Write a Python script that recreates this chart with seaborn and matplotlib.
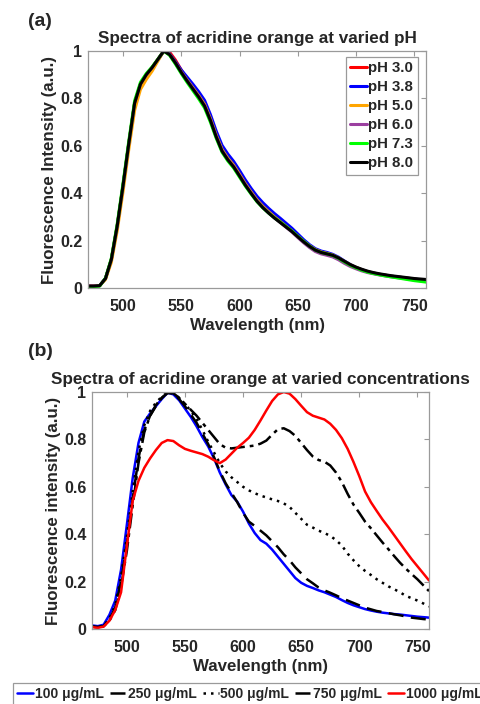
import numpy as np
import pandas as pd
import seaborn as sns
import matplotlib
matplotlib.use("Agg")
import matplotlib.pyplot as plt
from matplotlib.ticker import FormatStrFormatter

# wavelength grid (nm), 5 nm steps from 470 to 760
wavelength = list(range(470, 761, 5))

# panel (a): normalised spectra at different pH
ph_labels = ["pH 3.0", "pH 3.8", "pH 5.0", "pH 6.0", "pH 7.3", "pH 8.0"]
ph_30 = [0.008, 0.008, 0.010, 0.040, 0.120, 0.260, 0.430, 0.610, 0.780, 0.860,
         0.900, 0.930, 0.965, 1.000, 0.995, 0.962, 0.920, 0.882, 0.850, 0.818,
         0.780, 0.720, 0.650, 0.590, 0.553, 0.522, 0.485, 0.445, 0.410, 0.377,
         0.350, 0.326, 0.304, 0.284, 0.263, 0.243, 0.220, 0.198, 0.178, 0.161,
         0.151, 0.145, 0.138, 0.126, 0.111, 0.097, 0.086, 0.076, 0.068, 0.062,
         0.057, 0.053, 0.049, 0.046, 0.043, 0.040, 0.037, 0.034, 0.032]
ph_38 = [0.008, 0.008, 0.010, 0.040, 0.118, 0.255, 0.425, 0.605, 0.775, 0.858,
         0.898, 0.930, 0.962, 1.000, 0.988, 0.955, 0.920, 0.890, 0.860, 0.828,
         0.792, 0.732, 0.662, 0.602, 0.565, 0.534, 0.496, 0.456, 0.420, 0.387,
         0.360, 0.336, 0.314, 0.294, 0.273, 0.252, 0.228, 0.204, 0.183, 0.166,
         0.156, 0.150, 0.142, 0.130, 0.114, 0.099, 0.087, 0.077, 0.069, 0.063,
         0.058, 0.054, 0.050, 0.047, 0.044, 0.041, 0.038, 0.035, 0.033]
ph_50 = [0.008, 0.008, 0.010, 0.036, 0.108, 0.240, 0.405, 0.585, 0.750, 0.838,
         0.880, 0.915, 0.958, 1.000, 0.985, 0.950, 0.912, 0.878, 0.845, 0.812,
         0.775, 0.715, 0.645, 0.585, 0.548, 0.518, 0.480, 0.440, 0.405, 0.372,
         0.345, 0.322, 0.300, 0.280, 0.260, 0.240, 0.218, 0.197, 0.178, 0.162,
         0.152, 0.146, 0.139, 0.127, 0.112, 0.098, 0.087, 0.077, 0.069, 0.063,
         0.058, 0.054, 0.050, 0.047, 0.044, 0.041, 0.038, 0.034, 0.031]
ph_60 = [0.008, 0.008, 0.010, 0.040, 0.120, 0.260, 0.430, 0.610, 0.780, 0.860,
         0.900, 0.930, 0.965, 1.000, 0.985, 0.950, 0.912, 0.876, 0.842, 0.808,
         0.770, 0.710, 0.640, 0.580, 0.543, 0.513, 0.475, 0.436, 0.401, 0.368,
         0.341, 0.318, 0.296, 0.276, 0.256, 0.236, 0.213, 0.191, 0.171, 0.154,
         0.144, 0.138, 0.131, 0.119, 0.104, 0.091, 0.081, 0.072, 0.065, 0.060,
         0.055, 0.051, 0.047, 0.044, 0.041, 0.038, 0.034, 0.031, 0.028]
ph_73 = [0.006, 0.006, 0.008, 0.042, 0.125, 0.268, 0.440, 0.620, 0.790, 0.868,
         0.905, 0.933, 0.966, 1.000, 0.982, 0.945, 0.905, 0.868, 0.833, 0.798,
         0.760, 0.700, 0.632, 0.573, 0.536, 0.506, 0.468, 0.430, 0.396, 0.364,
         0.338, 0.316, 0.296, 0.278, 0.259, 0.240, 0.218, 0.197, 0.177, 0.160,
         0.150, 0.144, 0.137, 0.125, 0.110, 0.096, 0.085, 0.075, 0.067, 0.061,
         0.056, 0.051, 0.047, 0.043, 0.039, 0.035, 0.031, 0.028, 0.025]
ph_80 = [0.008, 0.008, 0.010, 0.040, 0.120, 0.260, 0.430, 0.610, 0.780, 0.860,
         0.900, 0.930, 0.965, 1.000, 0.985, 0.950, 0.910, 0.874, 0.840, 0.806,
         0.768, 0.708, 0.638, 0.578, 0.541, 0.511, 0.473, 0.434, 0.399, 0.366,
         0.339, 0.316, 0.295, 0.276, 0.257, 0.238, 0.216, 0.195, 0.176, 0.160,
         0.150, 0.144, 0.138, 0.127, 0.113, 0.099, 0.088, 0.079, 0.071, 0.065,
         0.060, 0.056, 0.052, 0.049, 0.046, 0.043, 0.040, 0.038, 0.036]
ph_colors = ["#ff0000", "#0000ff", "#ffa500", "#9b3fa0", "#00ff00", "#000000"]

# panel (b): normalised spectra at different concentrations
conc_labels = ["100 μg/mL", "250 μg/mL", "500 μg/mL", "750 μg/mL", "1000 μg/mL"]
c_100 = [0.015, 0.012, 0.018, 0.060, 0.120, 0.250, 0.440, 0.636, 0.785, 0.875,
         0.910, 0.940, 0.970, 0.997, 0.990, 0.965, 0.930, 0.895, 0.855, 0.810,
         0.770, 0.720, 0.660, 0.610, 0.565, 0.537, 0.495, 0.445, 0.405, 0.375,
         0.360, 0.335, 0.305, 0.275, 0.245, 0.215, 0.195, 0.182, 0.173, 0.163,
         0.155, 0.145, 0.135, 0.122, 0.110, 0.100, 0.092, 0.084, 0.078, 0.073,
         0.069, 0.066, 0.063, 0.061, 0.058, 0.055, 0.052, 0.050, 0.048]
c_250 = [0.010, 0.008, 0.012, 0.040, 0.090, 0.200, 0.360, 0.550, 0.720, 0.840,
         0.900, 0.940, 0.975, 0.995, 0.995, 0.970, 0.940, 0.905, 0.870, 0.825,
         0.780, 0.725, 0.665, 0.615, 0.575, 0.535, 0.490, 0.453, 0.435, 0.415,
         0.395, 0.370, 0.345, 0.315, 0.290, 0.260, 0.235, 0.210, 0.193, 0.175,
         0.163, 0.153, 0.142, 0.130, 0.120, 0.110, 0.100, 0.090, 0.083, 0.076,
         0.072, 0.067, 0.062, 0.058, 0.053, 0.048, 0.045, 0.042, 0.040]
c_500 = [0.010, 0.008, 0.012, 0.045, 0.100, 0.220, 0.390, 0.580, 0.750, 0.860,
         0.920, 0.955, 0.980, 0.998, 0.995, 0.975, 0.950, 0.920, 0.885, 0.840,
         0.790, 0.745, 0.700, 0.665, 0.640, 0.620, 0.600, 0.585, 0.573, 0.563,
         0.555, 0.547, 0.540, 0.530, 0.515, 0.490, 0.465, 0.440, 0.428, 0.415,
         0.405, 0.393, 0.375, 0.352, 0.318, 0.290, 0.265, 0.245, 0.228, 0.210,
         0.195, 0.180, 0.168, 0.155, 0.140, 0.130, 0.120, 0.108, 0.095]
c_750 = [0.010, 0.008, 0.012, 0.035, 0.080, 0.180, 0.330, 0.520, 0.700, 0.830,
         0.900, 0.945, 0.975, 0.998, 0.995, 0.975, 0.950, 0.925, 0.900, 0.870,
         0.840, 0.810, 0.780, 0.765, 0.762, 0.765, 0.768, 0.771, 0.774, 0.782,
         0.795, 0.820, 0.843, 0.847, 0.835, 0.815, 0.785, 0.755, 0.728, 0.713,
         0.706, 0.690, 0.660, 0.620, 0.570, 0.525, 0.490, 0.453, 0.425, 0.395,
         0.365, 0.337, 0.308, 0.280, 0.255, 0.232, 0.210, 0.185, 0.160]
c_1000 = [0.008, 0.005, 0.010, 0.035, 0.080, 0.155, 0.350, 0.540, 0.625, 0.680,
          0.720, 0.755, 0.785, 0.797, 0.793, 0.775, 0.760, 0.752, 0.745, 0.738,
          0.727, 0.712, 0.700, 0.715, 0.740, 0.765, 0.785, 0.807, 0.840, 0.880,
          0.922, 0.962, 0.990, 1.000, 0.993, 0.970, 0.942, 0.915, 0.900, 0.892,
          0.884, 0.866, 0.840, 0.805, 0.760, 0.705, 0.645, 0.580, 0.535, 0.498,
          0.462, 0.430, 0.396, 0.362, 0.328, 0.295, 0.265, 0.235, 0.205]
conc_colors = ["#0000ff", "#000000", "#000000", "#000000", "#ff0000"]
conc_styles = ["-", (0, (6, 3)), (0, (1, 2)), (0, (6, 2, 1.5, 2)), "-"]

FONT = "Liberation Sans"
GRAY = "#9a9a9a"


def style_axes(ax, ylabel, title):
    """MATLAB-like box axes with inward ticks on all sides"""
    ax.set_xlim(470, 760)
    ax.set_ylim(0, 1)
    ax.set_xticks([500, 550, 600, 650, 700, 750])
    ax.set_yticks([0, 0.2, 0.4, 0.6, 0.8, 1.0])
    ax.yaxis.set_major_formatter(FormatStrFormatter("%g"))
    ax.tick_params(direction="in", length=3.5, width=0.8, color=GRAY,
                   top=True, right=True, labelsize=11.5)
    ax.tick_params(axis="x", pad=8)
    ax.tick_params(axis="y", pad=4)
    for lab in ax.get_xticklabels() + ax.get_yticklabels():
        lab.set_fontweight("bold")
    for sp in ax.spines.values():
        sp.set_color(GRAY)
        sp.set_linewidth(0.9)
    ax.set_xlabel("Wavelength (nm)", fontsize=12.2, fontweight="bold", labelpad=3)
    ax.set_ylabel(ylabel, fontsize=12.2, fontweight="bold", labelpad=2)
    ax.set_title(title, fontsize=12.3, fontweight="bold", pad=6)


def main():
    sns.set_style("white")
    plt.rcParams["font.family"] = [FONT, "DejaVu Sans"]

    fig = plt.figure(figsize=(4.81, 7.04), dpi=100)
    ax_a = fig.add_axes([88 / 481, 1 - 288 / 704, 338 / 481, 237 / 704])
    ax_b = fig.add_axes([92 / 481, 1 - 629 / 704, 337 / 481, 237 / 704])

    # panel (a)
    ph_series = [ph_30, ph_38, ph_50, ph_60, ph_73, ph_80]
    df_a = pd.concat([pd.DataFrame({"wl": wavelength, "val": s, "ph": lab})
                      for s, lab in zip(ph_series, ph_labels)])
    sns.lineplot(data=df_a, x="wl", y="val", hue="ph", hue_order=ph_labels,
                 palette=ph_colors, linewidth=2.2, ax=ax_a, legend=False)
    style_axes(ax_a, "Fluorescence Intensity (a.u.)",
               "Spectra of acridine orange at varied pH")
    handles_a = [plt.Line2D([], [], color=c, lw=2.2) for c in ph_colors]
    leg_a = ax_a.legend(handles_a, ph_labels, loc="upper right",
                        bbox_to_anchor=(0.975, 0.975),
                        prop={"family": FONT, "weight": "bold", "size": 10.8},
                        handlelength=1.1, handletextpad=0.1, labelspacing=0.33,
                        borderpad=0.3, borderaxespad=0.0, fancybox=False,
                        framealpha=1, edgecolor=GRAY)
    leg_a.get_frame().set_linewidth(0.9)

    # panel (b)
    conc_series = [c_100, c_250, c_500, c_750, c_1000]
    handles_b = []
    for s, lab, col, ls in zip(conc_series, conc_labels, conc_colors, conc_styles):
        sns.lineplot(x=wavelength, y=s, color=col, linestyle=ls, linewidth=1.8,
                     ax=ax_b, legend=False)
        handles_b.append(plt.Line2D([], [], color=col, linestyle=ls, lw=1.8))
    style_axes(ax_b, "Fluorescence intensity (a.u.)",
               "Spectra of acridine orange at varied concentrations")

    leg_b = fig.legend(handles_b, conc_labels, loc="upper left", ncol=5,
                       bbox_to_anchor=(13 / 481, 1 - 683 / 704),
                       prop={"family": [FONT, "DejaVu Sans"], "weight": "bold", "size": 10},
                       handlelength=1.15, handletextpad=0.12, columnspacing=0.45,
                       borderpad=0.3, borderaxespad=0.0, fancybox=False,
                       framealpha=1, edgecolor=GRAY)
    leg_b.get_frame().set_linewidth(0.9)

    fig.text(28 / 481, 1 - 22 / 704, "(a)", fontsize=14, fontweight="bold",
             va="center", ha="left")
    fig.text(28 / 481, 1 - 352 / 704, "(b)", fontsize=14, fontweight="bold",
             va="center", ha="left")

    fig.savefig("out.png", dpi=100)
    plt.close(fig)


if __name__ == "__main__":
    main()
